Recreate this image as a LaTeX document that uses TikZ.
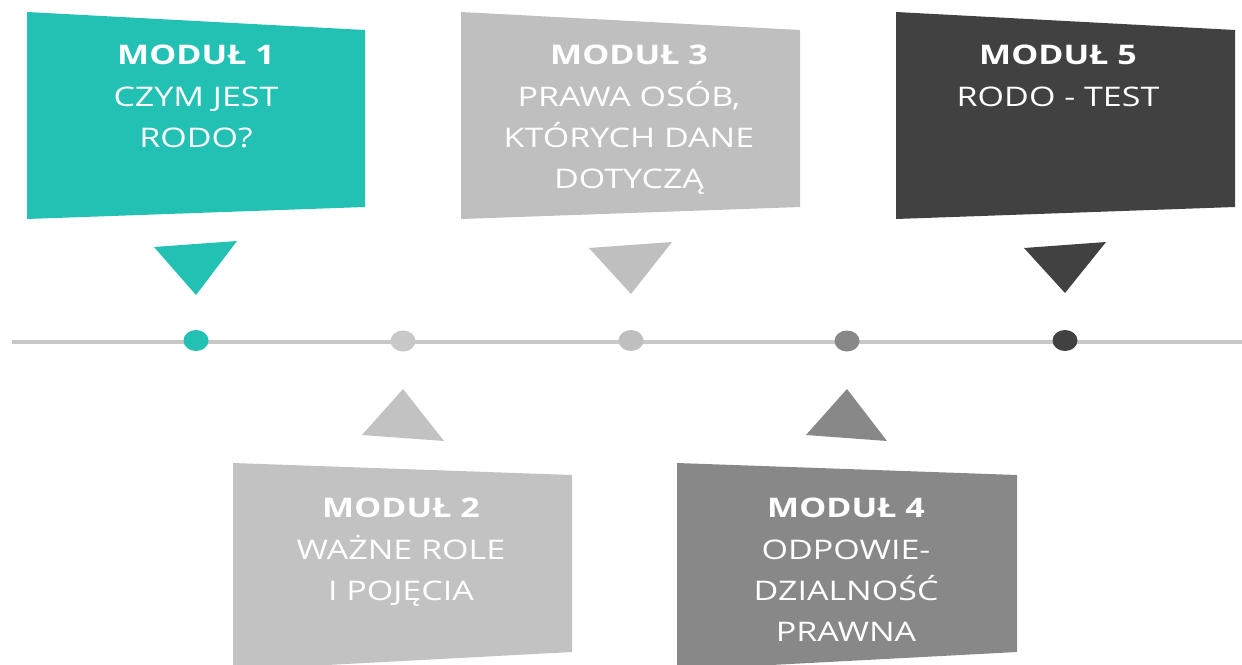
\documentclass[tikz,border=0pt]{standalone}
\usepackage{fontspec}
\setmainfont{Open Sans}[FakeStretch=1.26]
\usetikzlibrary{shapes.geometric}

\definecolor{modteal}{HTML}{22C1B3}
\definecolor{modlight}{HTML}{C2C2C2}
\definecolor{modmid}{HTML}{BFBFBF}
\definecolor{moddark}{HTML}{888888}
\definecolor{modblack}{HTML}{414141}
\definecolor{axisgrey}{HTML}{C8C8C8}

\begin{document}
\begin{tikzpicture}[x=1pt,y=-1pt]
\tikzset{
  boxtext/.style={text=white, align=center, inner sep=0pt, anchor=north,
    font=\fontsize{27}{41.3}\selectfont},
  dot/.style={ellipse, inner sep=0pt, minimum width=25pt, minimum height=21pt},
  axis/.style={line width=4pt, draw=axisgrey},
}
\useasboundingbox (0,0) rectangle (1242,664);
\clip (0,0) rectangle (1242,664);

% timeline axis
\coordinate (axis-start) at (12,341.5);
\coordinate (axis-end) at (1242,341.5);
\draw[axis] (axis-start) -- (axis-end);

% module 1
\fill[modteal] (27,12) -- (365,30) -- (365,207) -- (27,219) -- cycle;
\fill[modteal] (154,247) -- (237,241) -- (196,295) -- cycle;
\node[dot, fill=modteal] (dot1) at (196,340.5) {};
\node[boxtext] (text1) at (196,45) {\textbf{MODUŁ 1}\\CZYM JEST\\RODO?};

% module 2
\fill[modlight] (233,463) -- (572,475) -- (572,652) -- (233,670) -- cycle;
\fill[modlight] (403,389) -- (444,441) -- (362,435) -- cycle;
\node[dot, fill=axisgrey] (dot2) at (403,341) {};
\node[boxtext] (text2) at (401,498) {\textbf{MODUŁ 2}\\WAŻNE ROLE\\I POJĘCIA};

% module 3
\fill[modmid] (461,12) -- (800,30) -- (800,207) -- (461,219) -- cycle;
\fill[modmid] (589,248) -- (672,242) -- (631,294) -- cycle;
\node[dot, fill=modmid] (dot3) at (631,340.5) {};
\node[boxtext] (text3) at (629,45) {\textbf{MODUŁ 3}\\PRAWA OSÓB,\\KTÓRYCH DANE\\DOTYCZĄ};

% module 4
\fill[moddark] (677,463) -- (1017,475) -- (1017,652) -- (677,670) -- cycle;
\fill[moddark] (847,389) -- (887,441) -- (806,435) -- cycle;
\node[dot, fill=moddark] (dot4) at (847,341) {};
\node[boxtext] (text4) at (846,498) {\textbf{MODUŁ 4}\\ODPOWIE-\\DZIALNOŚĆ\\PRAWNA};

% module 5
\fill[modblack] (896,12) -- (1235,30) -- (1235,207) -- (896,219) -- cycle;
\fill[modblack] (1024,248) -- (1106,242) -- (1065,293) -- cycle;
\node[dot, fill=modblack] (dot5) at (1065,340.5) {};
\node[boxtext] (text5) at (1058,45) {\textbf{MODUŁ 5}\\RODO - TEST};
\end{tikzpicture}
\end{document}
